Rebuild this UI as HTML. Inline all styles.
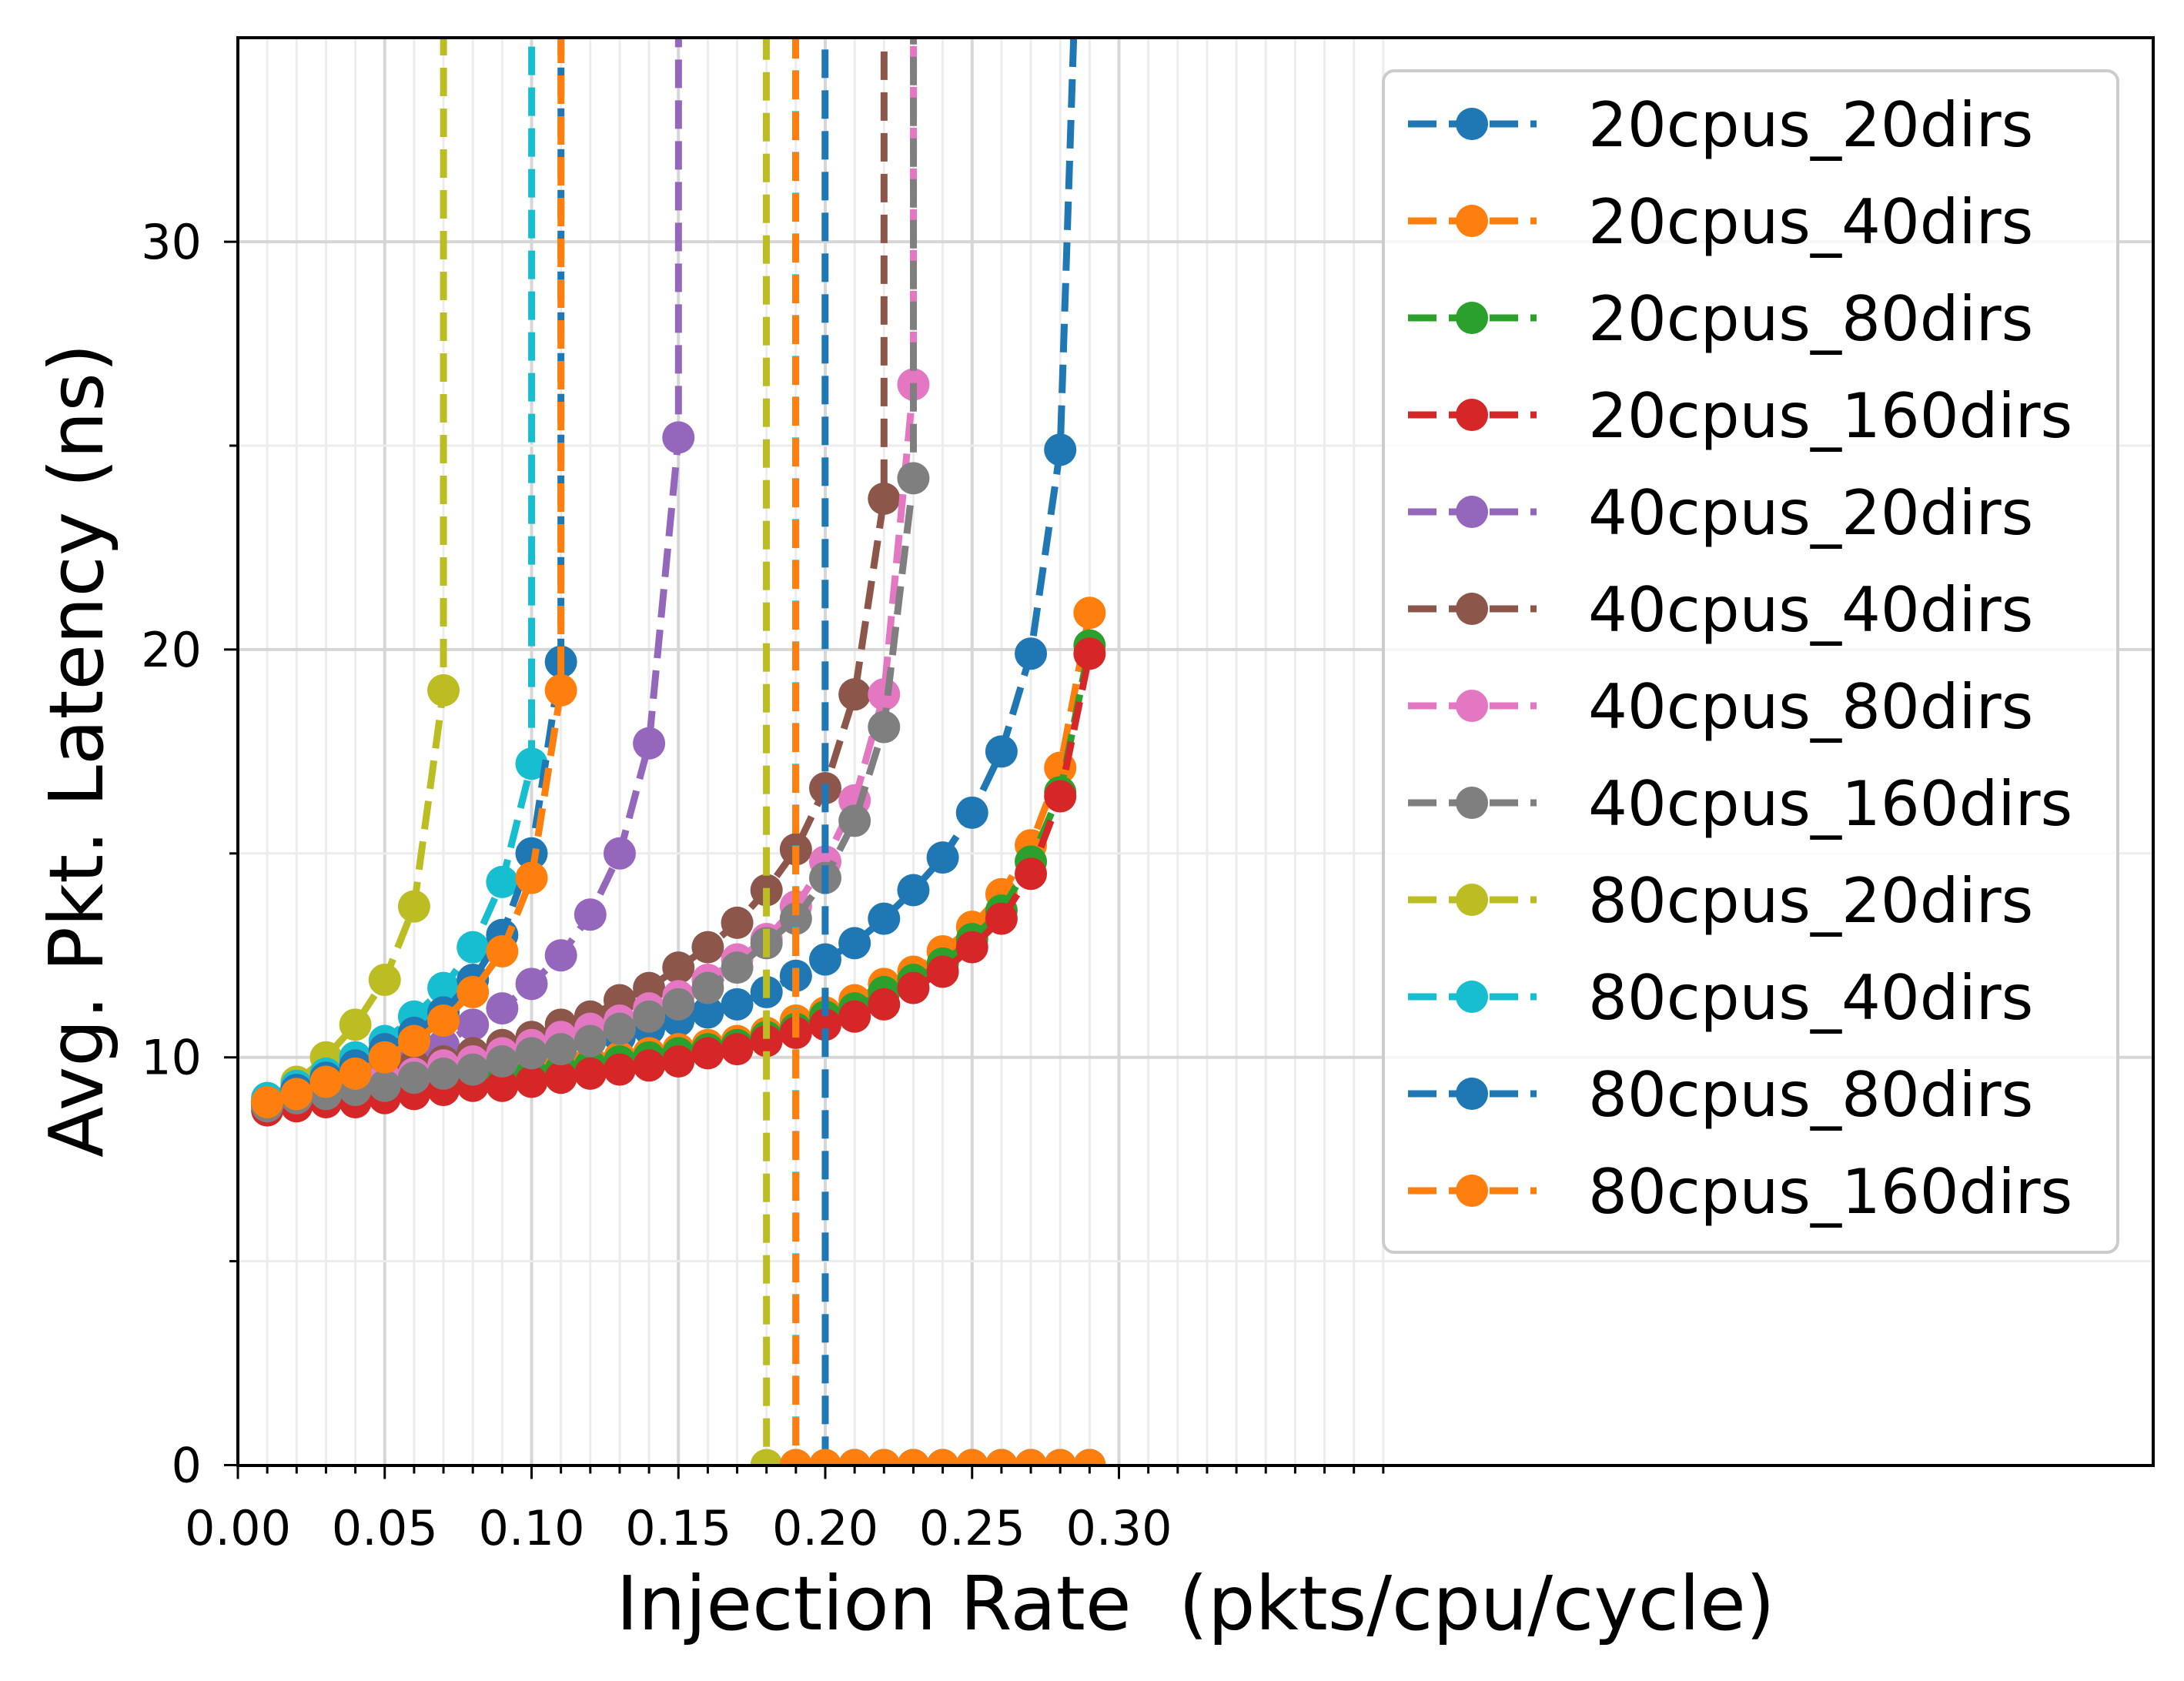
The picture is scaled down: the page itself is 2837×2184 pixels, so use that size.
<!DOCTYPE html>
<html><head><meta charset="utf-8">
<style>
html,body{margin:0;padding:0;background:#fff;}
svg{display:block;font-family:"DejaVu Sans","Liberation Sans",sans-serif;}
</style></head>
<body>
<svg id="chart" width="2837" height="2184" viewBox="0 0 2837 2184" xmlns="http://www.w3.org/2000/svg">
<defs><clipPath id="plotclip"><rect x="309" y="49" width="2488" height="1855"/></clipPath></defs>
<rect x="0" y="0" width="2837" height="2184" fill="#fff"/>
<g id="grid"></g>
<g id="series" clip-path="url(#plotclip)"></g>
<rect x="309" y="49" width="2488" height="1855" fill="none" stroke="#000" stroke-width="4"/>
<g id="ticks"></g>
<text x="1553" y="2117" font-size="97" text-anchor="middle">Injection Rate&#160; (pkts/cpu/cycle)</text>
<text x="0" y="0" font-size="97" text-anchor="middle" transform="translate(133,975) rotate(-90)">Avg. Pkt. Latency (ns)</text>
<g id="legend"></g>
</svg>
<script>
const xStart = 0.01, xStep = 0.01;
const seriesNames = ["20cpus_20dirs","20cpus_40dirs","20cpus_80dirs","20cpus_160dirs","40cpus_20dirs","40cpus_40dirs","40cpus_80dirs","40cpus_160dirs","80cpus_20dirs","80cpus_40dirs","80cpus_80dirs","80cpus_160dirs"];
const seriesColors = ["#1f77b4","#ff7f0e","#2ca02c","#d62728","#9467bd","#8c564b","#e377c2","#7f7f7f","#bcbd22","#17becf","#1f77b4","#ff7f0e"];
const H = 5000;
const s20_20 = [8.8,9.0,9.1,9.2,9.4,9.5,9.6,9.8,9.9,10.1,10.2,10.4,10.5,10.7,10.9,11.1,11.3,11.6,12.0,12.4,12.8,13.4,14.1,14.9,16.0,17.5,19.9,24.9,47];
const s20_40 = [8.8,8.9,9.0,9.1,9.2,9.3,9.4,9.5,9.6,9.7,9.8,9.9,10.0,10.1,10.2,10.3,10.4,10.6,10.9,11.1,11.4,11.8,12.1,12.6,13.2,14.0,15.2,17.1,20.9];
const s20_80 = [8.8,8.9,9.0,9.0,9.1,9.2,9.3,9.4,9.5,9.6,9.7,9.8,9.9,10.0,10.1,10.2,10.3,10.5,10.7,11.0,11.2,11.6,11.9,12.3,12.9,13.6,14.8,16.5,20.1];
const s20_160 = [8.7,8.8,8.9,8.9,9.0,9.1,9.2,9.3,9.3,9.4,9.5,9.6,9.7,9.8,9.9,10.1,10.2,10.4,10.6,10.8,11.0,11.3,11.7,12.1,12.7,13.4,14.5,16.4,19.9];
const s40_20 = [8.9,9.1,9.3,9.5,9.6,9.9,10.3,10.8,11.2,11.8,12.5,13.5,15.0,17.7,25.2,H];
const s40_40 = [8.9,9.1,9.2,9.4,9.6,9.8,9.9,10.1,10.3,10.5,10.8,11.0,11.4,11.7,12.2,12.7,13.3,14.1,15.1,16.6,18.9,23.7,H];
const s40_80 = [8.9,9.0,9.2,9.3,9.5,9.6,9.8,9.9,10.1,10.3,10.5,10.7,10.9,11.2,11.5,11.9,12.4,12.9,13.7,14.8,16.3,18.9,26.5,H];
const s40_160 = [8.8,9.0,9.1,9.2,9.3,9.5,9.6,9.7,9.9,10.1,10.2,10.4,10.7,11.0,11.3,11.7,12.2,12.8,13.4,14.4,15.8,18.1,24.2,H];
const s80_20 = [9.0,9.4,10.0,10.8,11.9,13.7,19.0,H,H,H,H,H,H,H,H,H,H,0,0,0,0,0,0,0,0,0,0,0,0];
const s80_40 = [9.0,9.3,9.6,10.0,10.4,11.0,11.7,12.7,14.3,17.2,H,H,H,H,H,H,H,H,0,0,0,0,0,0,0,0,0,0,0];
const s80_80 = [8.9,9.2,9.5,9.8,10.2,10.6,11.1,11.9,13.0,15.0,19.7,H,H,H,H,H,H,H,H,0,0,0,0,0,0,0,0,0,0];
const s80_160 = [8.9,9.1,9.4,9.6,10.0,10.4,10.9,11.6,12.6,14.4,19.0,H,H,H,H,H,H,H,0,0,0,0,0,0,0,0,0,0,0];
const seriesValues = [s20_20,s20_40,s20_80,s20_160,s40_20,s40_40,s40_80,s40_160,s80_20,s80_40,s80_80,s80_160];
const xTickLabels = ["0.00","0.05","0.10","0.15","0.20","0.25","0.30"];
const xTickValues = [0,0.05,0.10,0.15,0.20,0.25,0.30];
const yTickLabels = ["0","10","20","30"];
const yTickValues = [0,10,20,30];

const NS = "http://www.w3.org/2000/svg";
const X0 = 309, XS = 3815, Y0 = 1903.5, YS = 52.98, TOP = 49, RIGHT = 2797;
function sx(v){ return X0 + v*XS; }
function sy(v){ return Y0 - v*YS; }
function mk(tag, attrs, parent){ const e=document.createElementNS(NS,tag); for(const k in attrs) e.setAttribute(k,attrs[k]); parent.appendChild(e); return e; }

const grid = document.getElementById('grid');
for(let i=1;i<=39;i++){
  const v = i/100; const major = (i%5===0 && i<=30);
  const l = mk('line',{x1:sx(v),x2:sx(v),y1:TOP,y2:Y0,stroke:major?'#d6d6d6':'#ececec','stroke-width':major?4:3},grid);
  
  
}
for(let v=5; v<35; v+=5){
  const major = v%10===0;
  const l = mk('line',{x1:X0,x2:RIGHT,y1:sy(v),y2:sy(v),stroke:major?'#d6d6d6':'#ececec','stroke-width':major?4:3},grid);
  
  
}

const sg = document.getElementById('series');
seriesValues.forEach((vals, si) => {
  const g = mk('g',{},sg);
  
  
  const pts = vals.map((v,i)=>[sx(xStart+i*xStep), sy(v)]);
  const line = mk('polyline',{points:pts.map(p=>p[0].toFixed(1)+','+p[1].toFixed(1)).join(' '),fill:'none',stroke:seriesColors[si],'stroke-width':9,'stroke-dasharray':'37 16','stroke-linejoin':'round'},g);
  
  
  pts.forEach((p,i)=>{
    if(vals[i] > 40) return;
    const c = mk('circle',{cx:p[0],cy:p[1],r:21,fill:seriesColors[si]},g);
    
    
  });
});

const tg = document.getElementById('ticks');
for(let i=0;i<=39;i++){
  const v=i/100; const major=(i%5===0 && i<=30);
  const t = mk('line',{x1:sx(v),x2:sx(v),y1:Y0,y2:Y0+(major?18:11),stroke:'#000','stroke-width':3},tg);
  
  
}
xTickLabels.forEach((lab,i)=>{
  const t = mk('text',{x:sx(xTickValues[i]),y:2007,'font-size':62,'text-anchor':'middle'},tg);
  t.textContent = lab;
  
  
});
for(let v=0; v<35; v+=5){
  const major = v%10===0;
  const t = mk('line',{x1:X0-(major?18:11),x2:X0,y1:sy(v),y2:sy(v),stroke:'#000','stroke-width':3},tg);
  
  
}
yTickLabels.forEach((lab,i)=>{
  const t = mk('text',{x:262,y:sy(yTickValues[i])+22,'font-size':62,'text-anchor':'end'},tg);
  t.textContent = lab;
  
  
});

const lg = document.getElementById('legend');
const box = mk('rect',{x:1797,y:92,width:954,height:1535,rx:14,fill:'#fff','fill-opacity':0.8,stroke:'#cccccc','stroke-width':4},lg);


seriesNames.forEach((name,i)=>{
  const cy = 161 + i*126;
  const e = mk('g',{},lg);
  
  
  mk('line',{x1:1829,x2:1996,y1:cy,y2:cy,stroke:seriesColors[i],'stroke-width':9,'stroke-dasharray':'37 16'},e);
  mk('circle',{cx:1912,cy:cy,r:21,fill:seriesColors[i]},e);
  const t = mk('text',{x:2063,y:cy+29,'font-size':80},e);
  t.textContent = name;
});
</script>
</body></html>
